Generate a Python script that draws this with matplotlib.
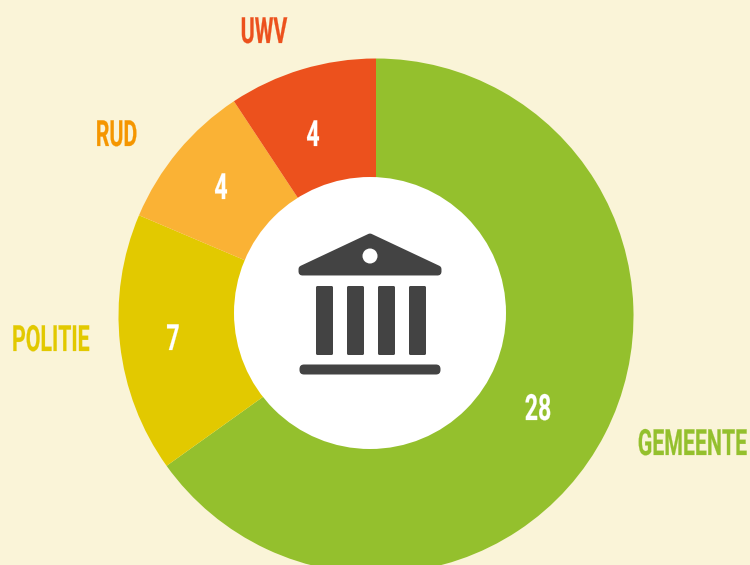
import matplotlib
matplotlib.use('Agg')
import matplotlib.pyplot as plt
from matplotlib.patches import Circle, FancyBboxPatch, Polygon
from matplotlib.patheffects import AbstractPathEffect
from matplotlib.transforms import Affine2D

labels = ['GEMEENTE', 'POLITIE', 'RUD', 'UWV']
values = [28, 7, 4, 4]
colors = ['#94C02D', '#E2C900', '#FAB235', '#EC511D']
label_colors = ['#94C02D', '#E2C900', '#F59600', '#EC511D']
bg = '#FAF4D8'
dark = '#434343'

W, H = 750, 565


class Squeeze(AbstractPathEffect):
    # narrow the glyphs around x0 (no condensed font installed), stroke keeps them heavy
    def __init__(self, x0, sx, lw=0.15):
        super().__init__()
        self.x0 = x0
        self.sx = sx
        self.lw = lw

    def draw_path(self, renderer, gc, tpath, affine, rgbFace=None):
        squeeze = Affine2D().translate(-self.x0, 0).scale(self.sx, 1).translate(self.x0, 0)
        gc0 = renderer.new_gc()
        gc0.copy_properties(gc)
        gc0.set_linewidth(self.lw)
        gc0.set_foreground(rgbFace)
        renderer.draw_path(gc0, tpath, affine + squeeze, rgbFace)
        gc0.restore()


fig = plt.figure(figsize=(W / 100, H / 100), dpi=100, facecolor=bg)
# axes in pixel coordinates, y down
ax = fig.add_axes([0, 0, 1, 1])

# y axis is flipped, so -90 is the top of the picture and the wedges run clockwise
ax.pie(values, colors=colors, startangle=-90, counterclock=True, radius=257.5,
       center=(376, 316), frame=True, wedgeprops=dict(linewidth=0))
ax.set_xlim(0, W)
ax.set_ylim(H, 0)
ax.set_aspect('equal')
ax.axis('off')

ax.add_patch(Circle((370, 313), 136, fc='white', ec='none', zorder=5))

# building icon
ax.add_patch(Polygon([(370, 237), (438, 269), (438, 272), (302, 272), (302, 269)],
                     closed=True, fc=dark, ec=dark, lw=5, joinstyle='round', zorder=6))
ax.add_patch(Circle((370, 256), 7.5, fc='white', ec='none', zorder=7))
for x in [316, 347, 378, 409]:
    ax.add_patch(FancyBboxPatch((x + 1.5, 287.5), 14, 66, boxstyle='round,pad=1.5',
                                fc=dark, ec='none', zorder=6))
ax.add_patch(FancyBboxPatch((304, 369), 132, 1, boxstyle='round,pad=4.5',
                            fc=dark, ec='none', zorder=6))

# x is the anchor of the alignment, squeezing keeps that edge in place
label_pos = [(747, 445), (12, 341), (116.5, 136), (264, 33)]
label_ha = ['right', 'left', 'center', 'center']
value_pos = [(538, 410), (173, 340), (221, 189), (313, 136)]
for lab, val, c, lp, ha, vp in zip(labels, values, label_colors, label_pos, label_ha, value_pos):
    t = ax.text(lp[0], lp[1], lab, color=c, ha=ha, va='center', fontsize=26,
                fontweight='bold', family='Roboto', zorder=8)
    t.set_path_effects([Squeeze(lp[0], 0.59)])
    n = ax.text(vp[0], vp[1], str(val), color='white', ha='center', va='center', fontsize=26,
                fontweight='bold', family='Roboto', zorder=8)
    n.set_path_effects([Squeeze(vp[0], 0.64)])

fig.savefig('out.png', dpi=100, facecolor=bg)
